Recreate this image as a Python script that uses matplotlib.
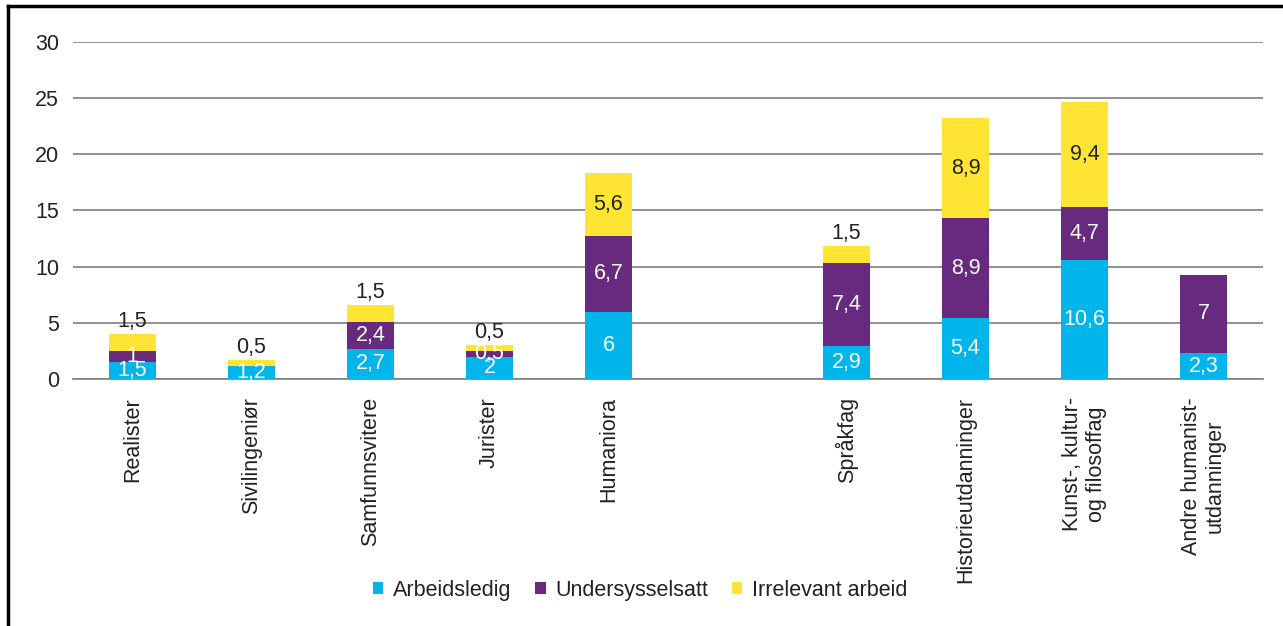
# -*- coding: utf-8 -*-
import matplotlib.pyplot as plt
from matplotlib.lines import Line2D
import numpy as np

plt.rcParams['font.family'] = ['Liberation Sans', 'DejaVu Sans']

# data (tom plass mellom Humaniora og Språkfag)
categories = ['Realister', 'Sivilingeniør', 'Samfunnsvitere', 'Jurister', 'Humaniora', '',
              'Språkfag', 'Historieutdanninger', 'Kunst-, kultur-\nog filosoffag',
              'Andre humanist-\nutdanninger']
arbeidsledig = [1.5, 1.2, 2.7, 2.0, 6.0, 0, 2.9, 5.4, 10.6, 2.3]
undersysselsatt = [1.0, 0, 2.4, 0.5, 6.7, 0, 7.4, 8.9, 4.7, 7.0]
irrelevant = [1.5, 0.5, 1.5, 0.5, 5.6, 0, 1.5, 8.9, 9.4, 0]
series_names = ['Arbeidsledig', 'Undersysselsatt', 'Irrelevant arbeid']
colors = ['#00B5EA', '#682A7E', '#FFE433']

fs = 15.5
fig = plt.figure(figsize=(12.83, 6.26), dpi=100)
ax = fig.add_axes([0.0569, 0.3946, 0.9275, 0.5383])

x = np.arange(len(categories))
w = 0.40
bottom = np.zeros(len(categories))
series = [arbeidsledig, undersysselsatt, irrelevant]
for k, vals in enumerate(series):
    vals = np.array(vals, dtype=float)
    ax.bar(x, vals, w, bottom=bottom, color=colors[k], label=series_names[k], zorder=3)
    for i, v in enumerate(vals):
        if v <= 0:
            continue
        txt = ('%g' % v).replace('.', ',')
        if k < 2:
            ax.text(x[i], bottom[i] + v / 2, txt, ha='center', va='center',
                    color='white', fontsize=fs, zorder=4)
        elif v <= 1.5:
            # liten verdi: over søylen
            ax.annotate(txt, (x[i], bottom[i] + v), xytext=(0, 9), textcoords='offset points',
                        ha='center', va='center', color='#222222', fontsize=fs, zorder=4)
        else:
            ax.text(x[i], bottom[i] + v / 2, txt, ha='center', va='center',
                    color='#222222', fontsize=fs, zorder=4)
    bottom += vals

ax.set_xlim(-0.5, len(categories) - 0.5)
ax.set_ylim(0, 30)
ax.set_yticks(range(0, 31, 5))
ax.yaxis.grid(True, color='#7f7f7f', linewidth=1.2, zorder=0)
ax.set_axisbelow(True)
for s in ['top', 'right', 'left']:
    ax.spines[s].set_visible(False)
ax.spines['bottom'].set_color('#7f7f7f')
ax.spines['bottom'].set_linewidth(1.2)
ax.tick_params(axis='both', length=0, labelsize=fs, colors='#222222')
ax.tick_params(axis='y', pad=10)
ax.set_xticks(x)
ax.set_xticklabels(categories, rotation=90, va='top', ha='center', multialignment='center')
ax.tick_params(axis='x', pad=13)

fig.legend(loc='center', bbox_to_anchor=(0.499, 0.057), ncol=3, frameon=False,
           fontsize=fs, handlelength=0.48, handleheight=0.48, handletextpad=0.45,
           columnspacing=1.1, labelcolor='#222222')

# ramme
fig.add_artist(Line2D([0.0062, 1.0], [0.9905, 0.9905], color='black', linewidth=2.5,
                      transform=fig.transFigure))
fig.add_artist(Line2D([0.0062, 0.0062], [0.0, 0.9905], color='black', linewidth=2.5,
                      transform=fig.transFigure))

fig.savefig('out.png', dpi=100)
